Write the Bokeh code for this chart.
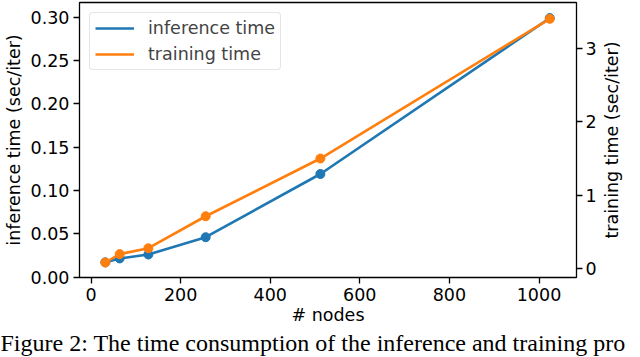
import math
from bokeh.plotting import figure
from bokeh.models import (Range1d, LinearAxis, FixedTicker, NumeralTickFormatter,
                          Legend, LegendItem, Title, Label)
from bokeh.embed import file_html
from bokeh.resources import INLINE

# ---- data ----
nodes = [32, 64, 128, 256, 512, 1024]
inference_time = [0.017, 0.0215, 0.026, 0.046, 0.119, 0.299]
training_time = [0.086, 0.20, 0.28, 0.715, 1.50, 3.40]
x_ticks = [0, 200, 400, 600, 800, 1000]
left_ticks = [0.0, 0.05, 0.10, 0.15, 0.20, 0.25, 0.30]
right_ticks = [0, 1, 2, 3]
series_names = ["inference time", "training time"]
x_label = "# nodes"
left_label = "inference time (sec/iter)"
right_label = "training time (sec/iter)"
caption = "Figure 2: The time consumption of the inference and training pro"

BLUE = "#1f77b4"
ORANGE = "#ff7f0e"
FONT = "DejaVu Sans"
FS = "17.5px"

p = figure(width=640, height=357, output_backend="svg", toolbar_location=None,
           title=None,
           x_range=Range1d(-25.7, 1083.7), y_range=Range1d(-0.0005, 0.317),
           min_border_left=79, min_border_right=64, min_border_top=2,
           min_border_bottom=80)
p.extra_y_ranges = {"right": Range1d(-0.118, 3.622)}
p.grid.visible = False
p.outline_line_color = "black"
p.outline_line_width = 1.3
p.background_fill_color = "white"
p.border_fill_color = "white"


def style_axis(ax):
    ax.axis_line_color = None
    ax.major_tick_line_color = "black"
    ax.major_tick_line_width = 1.3
    ax.major_tick_out = 6
    ax.major_tick_in = 0
    ax.minor_tick_line_color = None
    ax.major_label_text_font = FONT
    ax.major_label_text_font_size = FS
    ax.major_label_text_color = "black"
    ax.axis_label_text_font = FONT
    ax.axis_label_text_font_size = FS
    ax.axis_label_text_font_style = "normal"
    ax.axis_label_text_color = "black"


xa = p.xaxis[0]
style_axis(xa)
xa.ticker = FixedTicker(ticks=x_ticks)
xa.axis_label = x_label
xa.major_label_standoff = 4
xa.axis_label_standoff = 1

ya = p.yaxis[0]
style_axis(ya)
ya.ticker = FixedTicker(ticks=left_ticks)
ya.formatter = NumeralTickFormatter(format="0.00")
ya.axis_label = left_label
ya.major_label_standoff = 4
ya.axis_label_standoff = 4

ra = LinearAxis(y_range_name="right")
style_axis(ra)
ra.ticker = FixedTicker(ticks=right_ticks)
ra.major_label_standoff = 3
p.add_layout(ra, "right")

# right axis label, reading bottom-to-top, in its own side panel
rlab = Label(x=12, y=137.5, x_units="screen", y_units="screen",
             text=right_label, angle=math.pi / 2,
             text_align="center", text_baseline="middle",
             text_font=FONT, text_font_size=FS, text_color="black")
p.add_layout(rlab, "right")

# ---- series ----
l1 = p.line(nodes, inference_time, line_color=BLUE, line_width=2.6)
p.scatter(nodes, inference_time, size=9, fill_color=BLUE, line_color=BLUE)
l2 = p.line(nodes, training_time, line_color=ORANGE, line_width=2.6, y_range_name="right")
p.scatter(nodes, training_time, size=9, fill_color=ORANGE, line_color=ORANGE,
          y_range_name="right")

legend = Legend(items=[LegendItem(label=series_names[0], renderers=[l1]),
                       LegendItem(label=series_names[1], renderers=[l2])],
                location="top_left", margin=10, padding=5, spacing=6,
                glyph_width=39, glyph_height=20, label_height=20,
                label_standoff=14,
                label_text_font=FONT, label_text_font_size=FS,
                border_line_color="#cccccc", border_line_width=1,
                background_fill_alpha=0.8)
if "border_radius" in Legend.properties():
    legend.border_radius = 4
p.add_layout(legend, "center")

# caption below the chart
cap = Title(text=caption, align="left", offset=-79, standoff=0,
            text_font="Liberation Serif", text_font_size="24px",
            text_font_style="normal", text_color="black")
p.add_layout(cap, "below")

open("out.html", "w").write(file_html(p, INLINE))
